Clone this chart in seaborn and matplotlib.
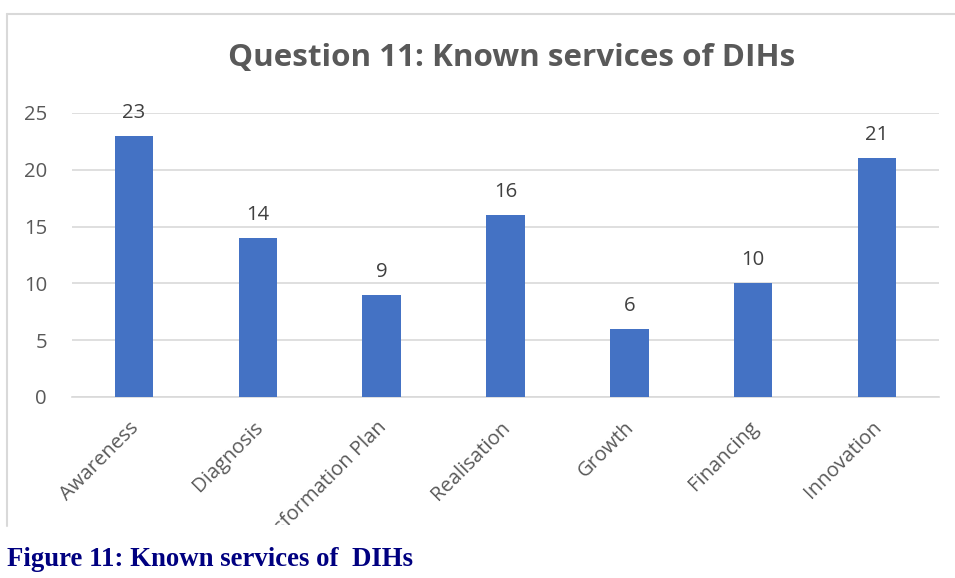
import matplotlib
matplotlib.use("Agg")
import matplotlib.pyplot as plt
import matplotlib.transforms as mtransforms
from matplotlib.lines import Line2D
from matplotlib.patches import Rectangle
import seaborn as sns
import pandas as pd

services = ["Awareness", "Diagnosis", "Transformation Plan", "Realisation",
            "Growth", "Financing", "Innovation"]
counts = [23, 14, 9, 16, 6, 10, 21]
y_ticks = [0, 5, 10, 15, 20, 25]

title_text = "Question 11: Known services of DIHs"
caption_text = "Figure 11: Known services of  DIHs"

sns.set_theme(style="white")
plt.rcParams["font.family"] = ["Open Sans", "DejaVu Sans"]

W, H = 955, 578
fig = plt.figure(figsize=(W / 100, H / 100), dpi=100)
fig.patch.set_facecolor("white")

def fx(px):
    return px / W

def fy(py):
    return 1 - py / H

# plot area in pixel terms
left, right, top, bottom = 72, 939, 113, 397
ax = fig.add_axes([fx(left), fy(bottom), fx(right) - fx(left), fy(top) - fy(bottom)])

df = pd.DataFrame({"service": services, "count": counts})
sns.barplot(data=df, x="service", y="count", color="#4472C4", saturation=1,
            width=0.31, linewidth=0, ax=ax, zorder=3)

ax.set_ylim(0, 25)
ax.set_xlim(-0.5, len(services) - 0.5)
ax.set_yticks(y_ticks)
ax.yaxis.grid(True, color="#d9d9d9", linewidth=1.2, zorder=0)
ax.set_axisbelow(True)
for s in ["top", "right", "left"]:
    ax.spines[s].set_visible(False)
ax.spines["bottom"].set_color("#d9d9d9")
ax.spines["bottom"].set_linewidth(1.2)
ax.set_xlabel("")
ax.set_ylabel("")
ax.tick_params(axis="both", length=0, colors="#595959", labelsize=14.6)
ax.tick_params(axis="y", pad=18)
ax.tick_params(axis="x", pad=4)
ax.set_xticks(range(len(services)))
ax.set_xticklabels(services, rotation=45, ha="right", va="top",
                   rotation_mode="anchor")

# nudge the slanted category labels down and left
shift = mtransforms.ScaledTranslation(-5 / 100, -15 / 100, fig.dpi_scale_trans)
for lab in ax.get_xticklabels():
    lab.set_transform(lab.get_transform() + shift)

# value labels above each bar
for i, v in enumerate(counts):
    ax.text(i, v + 1.15, str(v), ha="center", va="bottom", fontsize=14.6,
            color="#404040", clip_on=False)

# chart frame: top and left edges, the area below clips the axis labels
fig.add_artist(Line2D([fx(7), fx(970)], [fy(14), fy(14)],
                      transform=fig.transFigure, color="#d9d9d9", linewidth=1.5))
fig.add_artist(Line2D([fx(7), fx(7)], [fy(14), fy(526)],
                      transform=fig.transFigure, color="#d9d9d9", linewidth=1.5))
clip = Rectangle((fx(7), fy(525)), fx(960) - fx(7), fy(14) - fy(525),
                 transform=fig.transFigure, fill=False, visible=False)
fig.add_artist(clip)
for lab in ax.get_xticklabels():
    lab.set_clip_path(clip)

fig.text(fx(512), fy(58), title_text, ha="center", va="center",
         fontsize=22.6, fontweight="bold", color="#595959")

fig.text(fx(7), fy(559), caption_text, ha="left", va="center",
         fontsize=19.3, fontweight="bold", color="#000080",
         family=["Liberation Serif", "DejaVu Serif"])

fig.savefig("out.png", dpi=100)
